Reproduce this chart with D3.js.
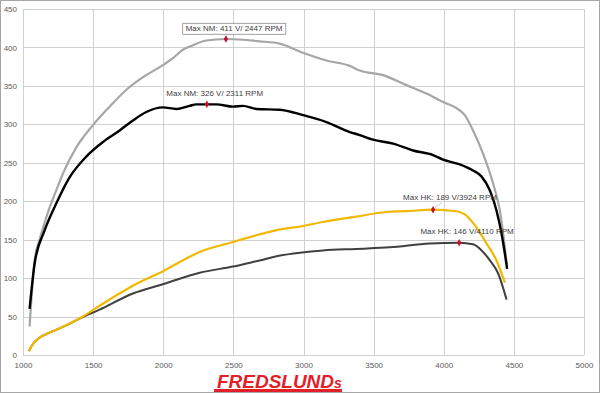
<!DOCTYPE html>
<html>
<head>
<meta charset="utf-8">
<script src="https://cdn.jsdelivr.net/npm/d3@7"></script>
<style>
  body { margin: 0; background: #fff; }
  svg text { font-family: "Liberation Sans", Arial, sans-serif; }
</style>
</head>
<body>
<div id="chart"></div>
<script>
// Dyno curves (rpm / value)
var rpmNmTuned = [1047, 1083, 1118, 1154, 1190, 1237, 1285, 1380, 1499, 1618, 1737, 1879, 1998, 2069, 2140, 2200, 2307, 2447, 2688, 2830, 2996, 3163, 3330, 3401, 3567, 3734, 3877, 3995, 4091, 4150, 4209, 4280, 4352, 4400, 4450];
var nmTuned    = [37, 123, 150, 172, 192, 214, 236, 270, 299, 323, 345, 364, 377, 386, 397, 402, 409, 411, 408, 405, 393, 383, 376, 370, 364, 351, 340, 329, 321, 312, 292, 262, 223, 188, 118];

var rpmNmStock = [1047, 1083, 1154, 1237, 1332, 1451, 1570, 1689, 1784, 1879, 1998, 2093, 2188, 2236, 2311, 2379, 2497, 2568, 2664, 2830, 2996, 3163, 3330, 3401, 3496, 3639, 3781, 3924, 3995, 4114, 4209, 4270, 4329, 4376, 4412, 4452];
var nmStock    = [60, 119, 162, 197, 231, 258, 277, 292, 305, 316, 322, 320, 324, 326, 326, 326, 323, 324, 320, 319, 312, 303, 290, 286, 280, 275, 266, 260, 254, 248, 240, 232, 214, 188, 158, 112];

var rpmHkTuned = [1042, 1070, 1100, 1140, 1200, 1300, 1427, 1546, 1784, 1998, 2260, 2497, 2688, 2854, 2973, 3139, 3377, 3591, 3734, 3924, 4091, 4150, 4233, 4305, 4376, 4436];
var hkTuned    = [5, 14, 20, 25, 30, 38, 50, 64, 90, 109, 134, 147, 157, 164, 167, 173, 180, 186, 187, 189, 187, 183, 166, 145, 123, 94];

var rpmHkStock = [1042, 1070, 1100, 1140, 1200, 1300, 1400, 1546, 1784, 1998, 2260, 2497, 2688, 2854, 2973, 3139, 3377, 3615, 3900, 4110, 4209, 4270, 4329, 4388, 4448];
var hkStock    = [5, 14, 20, 25, 30, 38, 47, 59, 80, 92, 107, 115, 123, 130, 133, 136, 138, 140, 145, 146, 144, 136, 123, 106, 72];

var xTicks = [1000, 1500, 2000, 2500, 3000, 3500, 4000, 4500, 5000];
var yTicks = [0, 50, 100, 150, 200, 250, 300, 350, 400, 450];

var svgWidth = 600;
var svgHeight = 393;

var margin = { top: 9, right: 16, bottom: 38, left: 23 };
var width = 584 - margin.left;
var height = 355 - margin.top;

var svg = d3.select("#chart")
  .append("svg")
  .attr("width", svgWidth)
  .attr("height", svgHeight);

// outer frame
svg.append("rect")
  .attr("x", 0.5).attr("y", 0.5)
  .attr("width", svgWidth - 1).attr("height", svgHeight - 1)
  .attr("fill", "none")
  .attr("stroke", "#a6a6a6");

var chartGroup = svg.append("g")
  .attr("transform", `translate(${margin.left}, ${margin.top})`);

var x = d3.scaleLinear().domain([1000, 5000]).range([0, width]);
var y = d3.scaleLinear().domain([0, 450]).range([height, 0]);

// gridlines
chartGroup.append("g")
  .selectAll("line")
  .data(xTicks)
  .enter()
  .append("line")
  .attr("x1", d => Math.round(x(d)) + 0.5)
  .attr("x2", d => Math.round(x(d)) + 0.5)
  .attr("y1", 0)
  .attr("y2", height)
  .attr("stroke", "#d0d0d0");

chartGroup.append("g")
  .selectAll("line")
  .data(yTicks)
  .enter()
  .append("line")
  .attr("x1", 0)
  .attr("x2", width)
  .attr("y1", d => Math.round(y(d)) + 0.5)
  .attr("y2", d => Math.round(y(d)) + 0.5)
  .attr("stroke", "#d0d0d0");

// axes (labels only)
var bottomAxis = d3.axisBottom(x).tickValues(xTicks).tickSize(0).tickPadding(7).tickFormat(d3.format("d"));
var leftAxis = d3.axisLeft(y).tickValues(yTicks).tickSize(0).tickPadding(6);

var xAxisG = chartGroup.append("g")
  .attr("transform", `translate(0, ${height})`)
  .call(bottomAxis);
var yAxisG = chartGroup.append("g").call(leftAxis);

[xAxisG, yAxisG].forEach(function(g) {
  g.select(".domain").remove();
  g.selectAll("text")
    .style("font-size", "8px")
    .style("font-family", "Liberation Sans, Arial, sans-serif")
    .attr("fill", "#595959");
});

// curves
function makeSeries(rpms, vals) {
  return rpms.map((r, i) => ({ rpm: r, v: vals[i] }));
}

var line = d3.line()
  .x(d => x(d.rpm))
  .y(d => y(d.v))
  .curve(d3.curveMonotoneX);

var series = [
  { data: makeSeries(rpmNmTuned, nmTuned), color: "#a6a6a6", w: 2.2 },
  { data: makeSeries(rpmHkStock, hkStock), color: "#404040", w: 2 },
  { data: makeSeries(rpmHkTuned, hkTuned), color: "#f0b800", w: 2.2 },
  { data: makeSeries(rpmNmStock, nmStock), color: "#000000", w: 2.4 }
];

series.forEach(function(s) {
  chartGroup.append("path")
    .datum(s.data)
    .attr("d", line)
    .attr("fill", "none")
    .attr("stroke", s.color)
    .attr("stroke-width", s.w)
    .attr("stroke-linejoin", "round");
});

// max annotations (label position given in data units)
var peaks = [
  { rpm: 2447, v: 411, label: "Max NM: 411 V/ 2447 RPM", tx: 2160, ty: 421, boxed: true },
  { rpm: 2311, v: 326, label: "Max NM: 326 V/ 2311 RPM", tx: 2022, ty: 337 },
  { rpm: 3924, v: 189, label: "Max HK: 189 V/3924 RPM", tx: 3710, ty: 202, leader: true },
  { rpm: 4110, v: 146, label: "Max HK: 146 V/4110 RPM", tx: 3834, ty: 157 }
];

var annoGroup = chartGroup.append("g");

peaks.forEach(function(p) {
  if (p.leader) {
    annoGroup.append("line")
      .attr("x1", x(p.rpm) + 2).attr("y1", y(p.v) - 2)
      .attr("x2", x(p.rpm) + 9).attr("y2", y(p.v) - 7)
      .attr("stroke", "#bfbfbf")
      .attr("stroke-width", 0.8);
  }
  var boxRect = p.boxed ? annoGroup.append("rect") : null;
  var t = annoGroup.append("text")
    .attr("x", x(p.tx))
    .attr("y", y(p.ty))
    .style("font-size", "8px")
    .attr("fill", "#404040")
    .text(p.label);
  if (boxRect) {
    var bb = t.node().getBBox();
    boxRect
      .attr("x", bb.x - 3).attr("y", bb.y - 1)
      .attr("width", bb.width + 6).attr("height", bb.height + 2)
      .attr("fill", "#fff")
      .attr("stroke", "#8c8c8c")
      .attr("stroke-width", 0.8);
  }
  annoGroup.append("path")
    .attr("d", d3.symbol().type(d3.symbolDiamond).size(16))
    .attr("transform", `translate(${x(p.rpm)}, ${y(p.v)})`)
    .attr("fill", "#c8102e");
});

// logo
svg.append("rect")
  .attr("x", 214).attr("y", 389)
  .attr("width", 128).attr("height", 3)
  .attr("fill", "#e3202a");

svg.append("text")
  .attr("x", 217)
  .attr("y", 388)
  .attr("textLength", 117)
  .attr("lengthAdjust", "spacingAndGlyphs")
  .style("font-size", "19px")
  .style("font-weight", "bold")
  .style("font-style", "italic")
  .attr("fill", "#e3202a")
  .text("FREDSLUND");

svg.append("text")
  .attr("x", 334)
  .attr("y", 388)
  .style("font-size", "14px")
  .style("font-weight", "bold")
  .style("font-style", "italic")
  .attr("fill", "#e3202a")
  .text("s");
</script>
</body>
</html>
